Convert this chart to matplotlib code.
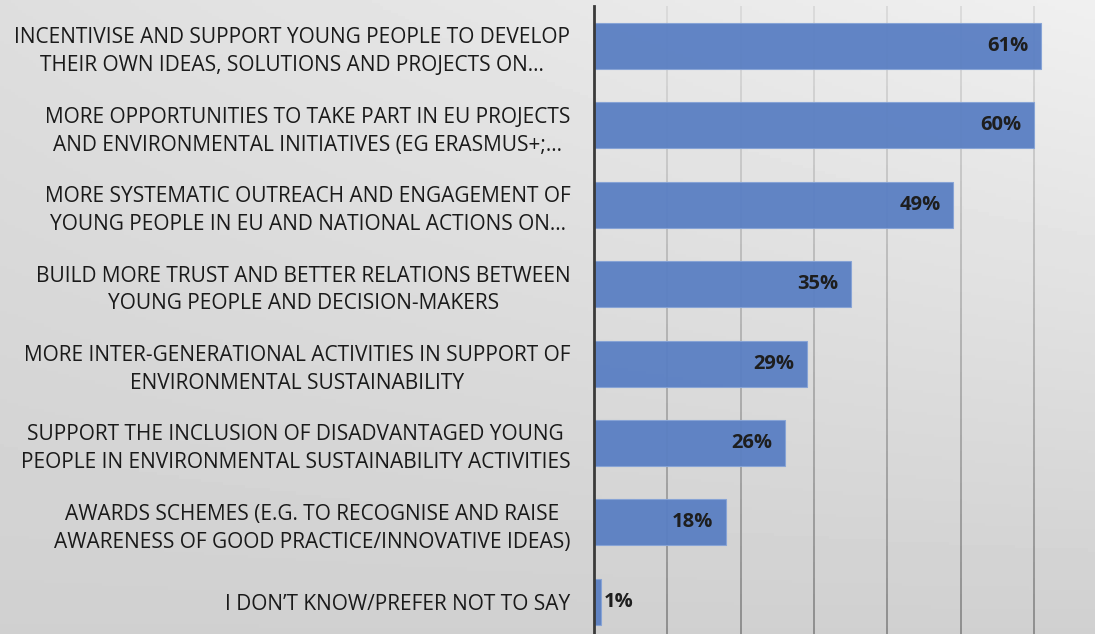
import numpy as np
import matplotlib
matplotlib.use("Agg")
import matplotlib.pyplot as plt

# data (top to bottom as shown)
labels = [
    "INCENTIVISE AND SUPPORT YOUNG PEOPLE TO DEVELOP\nTHEIR OWN IDEAS, SOLUTIONS AND PROJECTS ON...",
    "MORE OPPORTUNITIES TO TAKE PART IN EU PROJECTS\nAND ENVIRONMENTAL INITIATIVES (EG ERASMUS+;...",
    "MORE SYSTEMATIC OUTREACH AND ENGAGEMENT OF\nYOUNG PEOPLE IN EU AND NATIONAL ACTIONS ON...",
    "BUILD MORE TRUST AND BETTER RELATIONS BETWEEN\nYOUNG PEOPLE AND DECISION-MAKERS",
    "MORE INTER-GENERATIONAL ACTIVITIES IN SUPPORT OF\nENVIRONMENTAL SUSTAINABILITY",
    "SUPPORT THE INCLUSION OF DISADVANTAGED YOUNG\nPEOPLE IN ENVIRONMENTAL SUSTAINABILITY ACTIVITIES",
    "AWARDS SCHEMES (E.G. TO RECOGNISE AND RAISE\nAWARENESS OF GOOD PRACTICE/INNOVATIVE IDEAS)",
    "I DON\u2019T KNOW/PREFER NOT TO SAY",
]
values = [61, 60, 49, 35, 29, 26, 18, 1]

plt.rcParams["font.family"] = ["Open Sans", "DejaVu Sans"]

fig = plt.figure(figsize=(10.95, 6.34), dpi=100)

# background gradient
bg = fig.add_axes([0, 0, 1, 1], zorder=-10)
yy, xx = np.mgrid[0:1:200j, 0:1:300j]
shade = 240 - 32 * yy - 18 * (1 - xx) * (1 - yy)
bg.imshow(shade, cmap="gray", vmin=0, vmax=255, aspect="auto",
          extent=[0, 1, 1, 0])
bg.axis("off")

W, H = 1095, 634
x0 = 594
px_per = 7.33
cat_h = 79.4
top_px = 46 - cat_h / 2
bot_px = top_px + cat_h * len(values)
ax = fig.add_axes([x0 / W, 1 - bot_px / H, 1 - x0 / W, (bot_px - top_px) / H])
ax.patch.set_alpha(0)

ypos = np.arange(len(values))
ax.barh(ypos, values, height=0.58, color="#5a7fc3", edgecolor="#86a3d6",
        linewidth=0.8, alpha=0.95, zorder=2)

ax.set_xlim(0, (W - x0) / px_per)
ax.set_ylim(len(values) - 0.5, -0.5)

# gridlines, darker towards the bottom
n = 40
ys = np.linspace(-0.5, len(values) - 0.5, n + 1)
for g in range(10, 70, 10):
    for i in range(n):
        t = i / n
        c = 0.85 - 0.32 * t
        ax.plot([g, g], [ys[i], ys[i + 1]], color=(c, c, c), lw=1.3,
                zorder=1, solid_capstyle="butt")

for s in ["top", "right", "bottom"]:
    ax.spines[s].set_visible(False)
ax.spines["left"].set_color("#3a3a3a")
ax.spines["left"].set_linewidth(2)
ax.spines["left"].set_zorder(4)
ax.set_xticks([])

ax.set_yticks(ypos)
ax.set_yticklabels(labels, fontsize=15, color="#1a1a1a", linespacing=1.42)
for t in ax.get_yticklabels():
    t.set_multialignment("center")
ax.tick_params(axis="y", length=0, pad=17)

for y, v in zip(ypos, values):
    if v > 5:
        ax.text(v - 1.7, y, f"{v}%", ha="right", va="center", fontsize=14.5,
                fontweight="bold", color="#1e1e1e", zorder=5)
    else:
        ax.text(v + 0.3, y, f"{v}%", ha="left", va="center", fontsize=14.5,
                fontweight="bold", color="#1e1e1e", zorder=5)

fig.savefig("out.png", dpi=100)
